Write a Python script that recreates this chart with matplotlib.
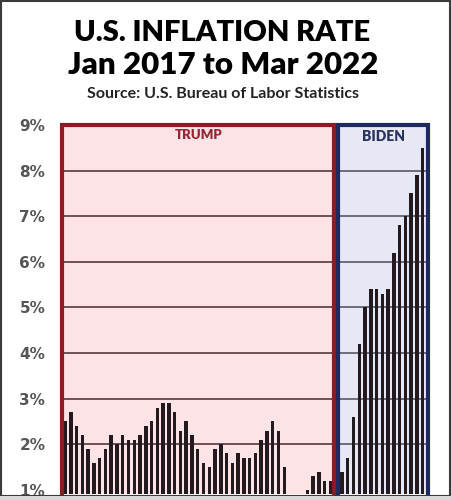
import matplotlib.pyplot as plt
from matplotlib.patches import Rectangle

# CPI-U, 12-month change (%), Jan 2017 .. Mar 2022
cpi_2017 = [2.5, 2.7, 2.4, 2.2, 1.9, 1.6, 1.7, 1.9, 2.2, 2.0, 2.2, 2.1]
cpi_2018 = [2.1, 2.2, 2.4, 2.5, 2.8, 2.9, 2.9, 2.7, 2.3, 2.5, 2.2, 1.9]
cpi_2019 = [1.6, 1.5, 1.9, 2.0, 1.8, 1.6, 1.8, 1.7, 1.7, 1.8, 2.1, 2.3]
cpi_2020 = [2.5, 2.3, 1.5, 0.3, 0.1, 0.6, 1.0, 1.3, 1.4, 1.2, 1.2, 1.4]
cpi_2021 = [1.4, 1.7, 2.6, 4.2, 5.0, 5.4, 5.4, 5.3, 5.4, 6.2, 6.8, 7.0]
cpi_2022 = [7.5, 7.9, 8.5]
rates = cpi_2017 + cpi_2018 + cpi_2019 + cpi_2020 + cpi_2021 + cpi_2022

y_ticks = [1, 2, 3, 4, 5, 6, 7, 8, 9]
y_labels = ['1%', '2%', '3%', '4%', '5%', '6%', '7%', '8%', '9%']

title_1 = 'U.S. INFLATION RATE'
title_2 = 'Jan 2017 to Mar 2022'
source = 'Source: U.S. Bureau of Labor Statistics'

fig = plt.figure(figsize=(4.52, 5.0), dpi=100)
fig.patch.set_facecolor('white')
ax = fig.add_axes([62 / 452, 6 / 500, 369 / 452, 369 / 500])

# shaded term boxes
trump_l, trump_r = -0.45, 46.6
biden_l, biden_r = 47.3, 62.95
ymin, ymax = 0.91, 9.0
ax.axvspan(trump_l, trump_r, color='#fde2e6', zorder=0)
ax.axvspan(biden_l, biden_r, color='#e7e8f6', zorder=0)

for v in y_ticks[1:-1]:
    ax.plot([trump_l, trump_r], [v, v], color='#6e4f56', lw=1.4, zorder=1)
    ax.plot([biden_l, biden_r], [v, v], color='#6c6c7c', lw=1.4, zorder=1)

x = list(range(len(rates)))
ax.bar(x, rates, width=0.6, color='#231a20', zorder=2)

# box borders
red = '#8a1c26'
navy = '#1e2a5c'
ax.plot([trump_l, trump_l, trump_r, trump_r], [ymin, ymax, ymax, ymin],
        color=red, lw=3.0, zorder=3, clip_on=False, solid_joinstyle='miter')
ax.plot([biden_l, biden_l, biden_r, biden_r], [ymin, ymax, ymax, ymin],
        color=navy, lw=3.0, zorder=3, clip_on=False, solid_joinstyle='miter')

ax.text((trump_l + trump_r) / 2, 8.78, 'TRUMP', color='#962534', fontsize=9.5,
        fontweight='heavy', ha='center', va='center', zorder=4, family='Lato')
ax.text((biden_l + biden_r) / 2, 8.75, 'BIDEN', color='#28335e', fontsize=10,
        fontweight='heavy', ha='center', va='center', zorder=4, family='Lato')

ax.set_xlim(-0.52, 63.43)
ax.set_ylim(ymin, ymax)
ax.set_xticks([])
ax.set_yticks(y_ticks)
ax.set_yticklabels(y_labels, fontsize=11, fontweight='bold', color='#555555')
ax.tick_params(axis='y', length=0, pad=12)
for s in ax.spines.values():
    s.set_visible(False)

fig.text(0.492, 1 - 33 / 500, title_1, fontsize=21, fontweight='heavy',
         ha='center', va='center', family='Lato')
fig.text(0.494, 1 - 65 / 500, title_2, fontsize=22.5, fontweight='heavy',
         ha='center', va='center', family='Lato')
fig.text(0.494, 1 - 94 / 500, source, fontsize=11.5, fontweight='bold',
         ha='center', va='center', color='#222222', family='Lato')

# picture frame
fig.patches.append(Rectangle((0.002, 0.008), 0.994, 0.99, transform=fig.transFigure,
                             fill=False, edgecolor='#3a3a3a', lw=1.5))
fig.patches.append(Rectangle((0.0, 0.0), 1.0, 0.008, transform=fig.transFigure,
                             color='#d9d9d9', lw=0))

fig.savefig('out.png', dpi=100)
